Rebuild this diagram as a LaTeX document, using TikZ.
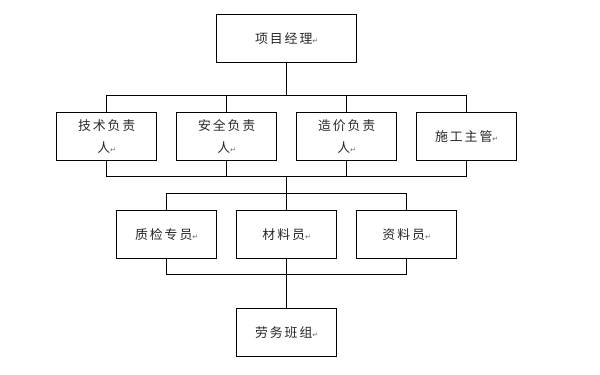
\documentclass[tikz,border=0pt]{standalone}
\usepackage{fontspec}
\newfontfamily\cjkfont[LetterSpace=15]{Noto Sans CJK SC}
\newfontfamily\symbfont{DejaVu Sans}
\usetikzlibrary{positioning}
\newcommand{\retmark}{{\symbfont\fontsize{6}{6}\selectfont\color{black!60}↵}}

\begin{document}
\begin{tikzpicture}[x=0.3mm,y=-0.3mm,line width=.8pt,
  every node/.style={font=\cjkfont\fontsize{11}{18.5}\selectfont,text=black!85},
  post/.style={draw,minimum width=30mm,minimum height=14.2mm,align=center,inner sep=0pt}]
\useasboundingbox (0,0) rectangle (600,374);
\coordinate (b1) at (286.7,95);
\coordinate (b2) at (286.7,176);
\coordinate (b3) at (286.7,193);
\coordinate (b4) at (286.7,274);
\node[post,minimum width=42mm,minimum height=14.4mm] (pm) at (286.7,38.3) {项目经理\retmark};
\node[post] (tech) at (106.7,136.4) {技术负责\\人\retmark};
\node[post] (safe) at (226.7,136.4) {安全负责\\人\retmark};
\node[post] (cost) at (346.7,136.4) {造价负责\\人\retmark};
\node[post] (site) at (466.7,136.4) {施工主管\retmark};
\node[post] (qc) at (166.7,234.5) {质检专员\retmark};
\node[post] (mat) at (286.7,234.5) {材料员\retmark};
\node[post] (doc) at (406.7,234.5) {资料员\retmark};
\node[post] (labor) at (286.7,332.3) {劳务班组\retmark};
% upper level
\draw (pm) -- (b1);
\draw (tech.north) -- (tech.north |- b1) -- (site.north |- b1) -- (site.north);
\draw (safe.north) -- (safe.north |- b1);
\draw (cost.north) -- (cost.north |- b1);
\draw (tech.south) -- (tech.south |- b2) -- (site.south |- b2) -- (site.south);
\draw (safe.south) -- (safe.south |- b2);
\draw (cost.south) -- (cost.south |- b2);
% lower level
\draw (b2) -- (b3);
\draw (qc.north) -- (qc.north |- b3) -- (doc.north |- b3) -- (doc.north);
\draw (mat) -- (b3);
\draw (qc.south) -- (qc.south |- b4) -- (doc.south |- b4) -- (doc.south);
\draw (mat) -- (b4);
\draw (b4) -- (labor);
\end{tikzpicture}
\end{document}
